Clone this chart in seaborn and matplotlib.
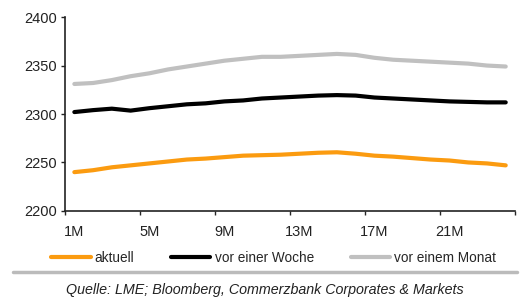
import pandas as pd
import numpy as np
import matplotlib.pyplot as plt
import seaborn as sns
from matplotlib.lines import Line2D

months = [f"{i}M" for i in range(1, 25)]
aktuell = [2240, 2242, 2245, 2247, 2249, 2251, 2253, 2254, 2255.5, 2257, 2257.5, 2258,
           2259, 2260, 2260.5, 2259, 2257, 2256, 2254.5, 2253, 2252, 2250, 2249, 2247]
vor_woche = [2302, 2304, 2305.5, 2303.5, 2306, 2308, 2310, 2311, 2313, 2314, 2316, 2317,
             2318, 2319, 2319.5, 2319, 2317, 2316, 2315, 2314, 2313, 2312.5, 2312, 2312]
vor_monat = [2331, 2332, 2335, 2339, 2342, 2346, 2349, 2352, 2355, 2357, 2359, 2359,
             2360, 2361, 2362, 2361, 2358, 2356, 2355, 2354, 2353, 2352, 2350, 2349]
series_names = ["aktuell", "vor einer Woche", "vor einem Monat"]
colors = ["#FB9B10", "#000000", "#C0C0C0"]
tick_labels = ["1M", "5M", "9M", "13M", "17M", "21M"]

sns.set_style("white")
plt.rcParams['font.family'] = ['Liberation Sans', 'DejaVu Sans']

pos = np.arange(1, len(months) + 1)
df = pd.DataFrame({
    "pos": np.tile(pos, 3),
    "value": aktuell + vor_woche + vor_monat,
    "series": np.repeat(series_names, len(months)),
})

fig = plt.figure(figsize=(5.24, 3.0), dpi=100)
ax = fig.add_axes([0.124, 0.297, 0.859, 0.646])
sns.lineplot(data=df, x="pos", y="value", hue="series", hue_order=series_names,
             palette=colors, linewidth=3, legend=False, ax=ax)

ax.set_xlim(0.5, 24.5)
ax.set_ylim(2200, 2400)
ax.set_yticks([2200, 2250, 2300, 2350, 2400])
ax.set_xticks([1, 5, 9, 13, 17, 21])
ax.set_xticklabels(tick_labels)
ax.set_xticks(np.arange(0.5, 25, 4), minor=True)
ax.tick_params(axis="x", which="major", length=0, pad=10, labelsize=10.5, colors="#222222")
ax.tick_params(axis="x", which="minor", length=3, width=1, direction="out", bottom=True)
ax.tick_params(axis="y", length=3, width=1, direction="out", left=True, labelsize=10.5,
               colors="#222222", pad=3)
ax.set_xlabel("")
ax.set_ylabel("")
for s in ["top", "right"]:
    ax.spines[s].set_visible(False)
for s in ["left", "bottom"]:
    ax.spines[s].set_color("#222222")
    ax.spines[s].set_linewidth(1.2)

handles = [Line2D([0], [0], color=c, lw=3) for c in colors]
fig.legend(handles, series_names, loc="center", bbox_to_anchor=(0.522, 0.14), ncol=3,
           frameon=False, fontsize=9.8, handlelength=2.9, columnspacing=2.7, handletextpad=0.3)

fig.add_artist(Line2D([0.025, 0.987], [0.093, 0.093], color="#BBBBBB", lw=2.5,
                      transform=fig.transFigure))
fig.text(0.505, 0.033, "Quelle: LME; Bloomberg, Commerzbank Corporates & Markets",
         ha="center", va="center", fontsize=10.3, style="italic", color="#222222")

fig.savefig("out.png", dpi=100)
